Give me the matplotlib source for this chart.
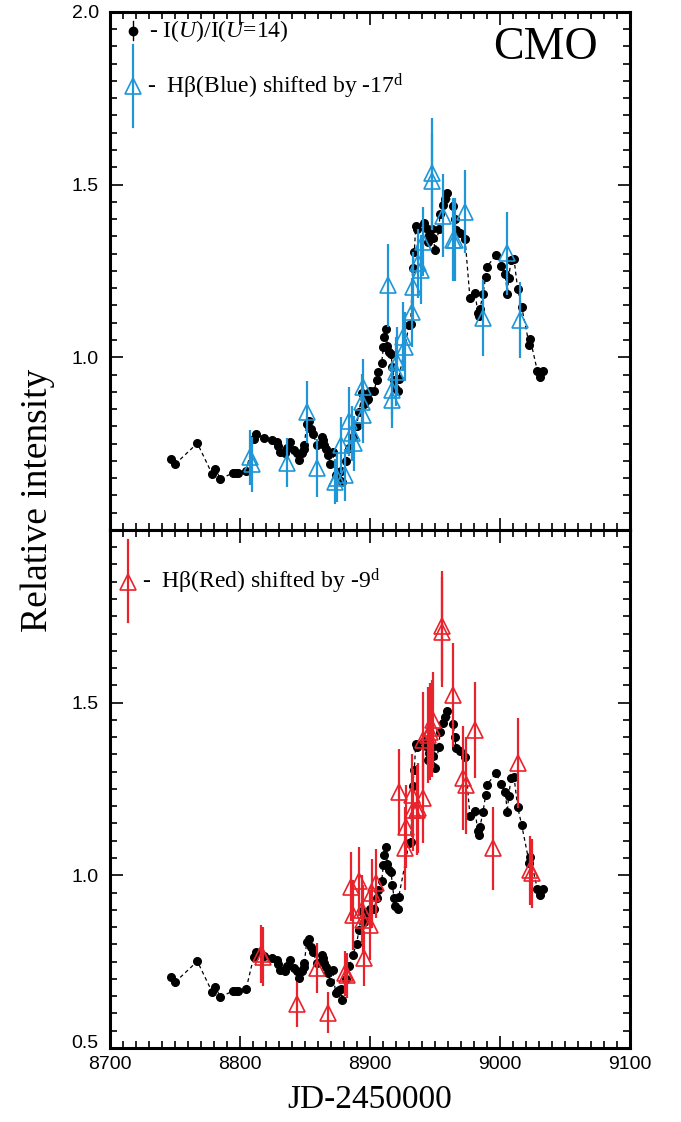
import matplotlib
matplotlib.use("Agg")
import matplotlib.pyplot as plt
from matplotlib.ticker import MultipleLocator

plt.rcParams['mathtext.fontset'] = 'custom'
plt.rcParams['mathtext.rm'] = 'Liberation Serif'
plt.rcParams['mathtext.it'] = 'Liberation Serif:italic'

# ---------------- data ----------------
u_jd = [8746.9, 8750.0, 8767.2, 8778.7, 8781.0, 8784.8, 8794.8, 8796.9, 8798.2, 8804.8,
        8810.5, 8812.3, 8818.7, 8824.6, 8828.2, 8829.2, 8830.5, 8834.6, 8835.9, 8838.5,
        8841.5, 8843.8, 8845.6, 8847.5, 8849.0, 8849.5, 8851.3, 8853.3, 8854.8, 8856.4,
        8859.0, 8862.8, 8863.8, 8864.6, 8865.9, 8867.9, 8869.5, 8871.3, 8873.6, 8874.8,
        8876.4, 8877.5, 8878.5, 8881.3, 8884.2, 8886.7, 8889.7, 8891.5, 8894.1, 8895.6,
        8897.4, 8898.5, 8900.0, 8903.3, 8905.1, 8906.2, 8909.0, 8910.3, 8911.0, 8912.3,
        8913.3, 8914.4, 8916.2, 8917.2, 8918.5, 8919.5, 8921.5, 8922.1, 8930.0, 8931.3,
        8932.8, 8934.1, 8935.2, 8936.4, 8941.8, 8942.8, 8944.9, 8945.6, 8947.4, 8948.7,
        8950.0, 8953.1, 8953.8, 8955.9, 8957.7, 8959.0, 8964.1, 8965.2, 8966.2, 8969.2,
        8973.1, 8976.9, 8981.0, 8982.8, 8983.8, 8984.6, 8986.9, 8989.0, 8990.0, 8996.9,
        9001.0, 9004.1, 9005.6, 9006.7, 9008.5, 9010.8, 9013.6, 9016.7, 9022.5, 9023.3,
        9028.7, 9030.8, 9032.8]
u_int = [0.705, 0.690, 0.751, 0.661, 0.677, 0.648, 0.665, 0.665, 0.664, 0.672,
         0.763, 0.777, 0.767, 0.761, 0.755, 0.744, 0.727, 0.724, 0.736, 0.755,
         0.731, 0.722, 0.703, 0.724, 0.735, 0.746, 0.806, 0.816, 0.792, 0.778,
         0.745, 0.770, 0.761, 0.745, 0.734, 0.718, 0.691, 0.725, 0.659, 0.661,
         0.668, 0.672, 0.638, 0.700, 0.737, 0.770, 0.801, 0.842, 0.896, 0.865,
         0.876, 0.879, 0.903, 0.903, 0.934, 0.957, 0.984, 1.029, 1.058, 1.081,
         1.033, 1.014, 1.009, 0.973, 0.934, 0.910, 0.903, 0.937, 1.093, 1.096,
         1.258, 1.306, 1.381, 1.372, 1.388, 1.375, 1.335, 1.354, 1.372, 1.345,
         1.311, 1.372, 1.415, 1.441, 1.458, 1.477, 1.438, 1.401, 1.369, 1.359,
         1.343, 1.171, 1.187, 1.127, 1.118, 1.140, 1.183, 1.233, 1.262, 1.296,
         1.264, 1.241, 1.183, 1.229, 1.282, 1.284, 1.198, 1.145, 1.036, 1.052,
         0.961, 0.942, 0.961]

blue_jd = [8807.5, 8809.5, 8835.9, 8851.3, 8859.5, 8873.0, 8875.0, 8877.5, 8881.0, 8884.1,
           8885.9, 8887.9, 8894.0, 8894.9, 8894.9, 8914.1, 8916.6, 8916.7, 8920.0, 8920.5,
           8925.6, 8926.9, 8932.0, 8933.3, 8937.2, 8939.0, 8941.0, 8947.4, 8947.4, 8956.4,
           8964.1, 8965.4, 8973.1, 8987.2, 9005.6, 9015.4]
blue_int = [0.710, 0.690, 0.695, 0.842, 0.679, 0.640, 0.650, 0.746, 0.660, 0.814,
            0.780, 0.751, 0.871, 0.833, 0.915, 1.209, 0.876, 0.905, 0.958, 0.987,
            1.060, 1.031, 1.130, 1.204, 1.272, 1.253, 1.335, 1.533, 1.509, 1.410,
            1.340, 1.340, 1.422, 1.113, 1.301, 1.108]
blue_err = [0.08, 0.08, 0.07, 0.09, 0.085, 0.065, 0.07, 0.08, 0.075, 0.10,
            0.08, 0.08, 0.08, 0.08, 0.08, 0.12, 0.08, 0.08, 0.10, 0.10,
            0.10, 0.10, 0.10, 0.10, 0.10, 0.10, 0.10, 0.16, 0.14, 0.12,
            0.12, 0.12, 0.12, 0.11, 0.12, 0.11]

red_jd = [8816.2, 8818.0, 8843.6, 8859.5, 8867.4, 8880.8, 8882.1, 8885.4, 8887.2, 8891.8,
          8893.6, 8894.9, 8895.4, 8900.0, 8901.3, 8904.4, 8922.3, 8926.9, 8927.7, 8932.6,
          8933.3, 8935.9, 8937.2, 8940.5, 8941.0, 8944.4, 8946.2, 8947.4, 8948.7, 8955.2,
          8955.2, 8964.1, 8971.8, 8973.6, 8980.8, 8994.9, 9013.6, 9023.1, 9024.4]
red_int = [0.772, 0.764, 0.627, 0.731, 0.602, 0.716, 0.711, 0.967, 0.885, 0.982,
           0.900, 0.871, 0.760, 0.856, 0.948, 0.977, 1.242, 1.078, 1.141, 1.231,
           1.189, 1.189, 1.194, 1.223, 1.392, 1.406, 1.416, 1.426, 1.450, 1.722,
           1.704, 1.522, 1.281, 1.260, 1.421, 1.078, 1.325, 1.015, 1.006]
red_err = [0.085, 0.085, 0.065, 0.073, 0.06, 0.065, 0.065, 0.10, 0.10, 0.10,
           0.10, 0.10, 0.08, 0.10, 0.10, 0.10, 0.123, 0.12, 0.12, 0.12,
           0.12, 0.13, 0.13, 0.13, 0.14, 0.14, 0.14, 0.14, 0.14, 0.16,
           0.16, 0.15, 0.15, 0.14, 0.14, 0.12, 0.13, 0.10, 0.10]

top_yticks = [0.5, 1.0, 1.5, 2.0]
top_ylabels = ['', '1.0', '1.5', '2.0']
bot_yticks = [0.5, 1.0, 1.5, 2.0]
bot_ylabels = ['0.5', '1.0', '1.5', '']
xticks = [8700, 8800, 8900, 9000, 9100]

BLUE = '#1e96d8'
RED = '#e8232b'
SERIF = 'Liberation Serif'
SANS = 'Liberation Sans'

fig = plt.figure(figsize=(6.81, 11.22), dpi=100)
ax1 = fig.add_axes([0.1615, 0.5277, 0.7636, 0.4617])
ax2 = fig.add_axes([0.1615, 0.066, 0.7636, 0.4617])


def style(ax, yt, ylab, show_x):
    ax.set_xlim(8700, 9100)
    ax.set_ylim(0.5, 2.0)
    ax.set_xticks(xticks)
    ax.xaxis.set_minor_locator(MultipleLocator(10))
    ax.yaxis.set_minor_locator(MultipleLocator(0.05))
    ax.set_yticks(yt, ylab, family=SANS, fontsize=14)
    if show_x:
        ax.set_xticks(xticks, [str(t) for t in xticks], family=SANS, fontsize=14)
    else:
        ax.set_xticklabels([])
    ax.tick_params(which='both', direction='in', top=True, right=True, width=1.2)
    ax.tick_params(which='major', length=9)
    ax.tick_params(which='minor', length=5)
    ax.tick_params(axis='y', pad=8)
    ax.tick_params(axis='x', pad=6)
    for s in ax.spines.values():
        s.set_linewidth(2.2)


def black(ax):
    ax.plot(u_jd, u_int, ls=(0, (3, 2.5)), color='black', lw=0.9, zorder=2)
    ax.plot(u_jd, u_int, 'o', color='black', ms=5.5, zorder=3)


# top panel
black(ax1)
ax1.errorbar(blue_jd, blue_int, yerr=blue_err, fmt='^', mfc='none', mec=BLUE,
             ecolor=BLUE, mew=1.2, ms=11, elinewidth=1.6, capsize=0, zorder=4)
style(ax1, top_yticks, top_ylabels, False)

# legend top
ax1.plot([0.044, 0.044], [0.945, 0.983], color='black', lw=1, transform=ax1.transAxes)
ax1.plot([0.044], [0.964], 'o', color='black', ms=6, transform=ax1.transAxes)
ax1.text(0.075, 0.964, r'- I($\mathit{U}$)/I($\mathit{U}$=14)', transform=ax1.transAxes,
         family=SERIF, fontsize=17, va='center', ha='left')
ax1.plot([0.044, 0.044], [0.777, 0.937], color=BLUE, lw=1.6, transform=ax1.transAxes)
ax1.plot([0.044], [0.856], '^', mfc='none', mec=BLUE, mew=1.2, ms=11, transform=ax1.transAxes)
ax1.text(0.072, 0.856, '-  H\u03b2(Blue) shifted by -17$^{\\rm d}$', transform=ax1.transAxes,
         family=SERIF, fontsize=17, va='center', ha='left')
ax1.text(0.938, 0.931, 'CMO', transform=ax1.transAxes, family=SERIF, fontsize=33,
         va='center', ha='right')

# bottom panel
black(ax2)
ax2.errorbar(red_jd, red_int, yerr=red_err, fmt='^', mfc='none', mec=RED,
             ecolor=RED, mew=1.2, ms=11, elinewidth=1.6, capsize=0, zorder=4)
style(ax2, bot_yticks, bot_ylabels, True)
# lift the lowest y label slightly like the reference
for lbl in ax2.get_yticklabels():
    if lbl.get_text() == '0.5':
        lbl.set_verticalalignment('baseline')

ax2.plot([0.035, 0.035], [0.822, 0.981], color=RED, lw=1.6, transform=ax2.transAxes)
ax2.plot([0.035], [0.900], '^', mfc='none', mec=RED, mew=1.2, ms=11, transform=ax2.transAxes)
ax2.text(0.062, 0.900, '-  H\u03b2(Red) shifted by -9$^{\\rm d}$', transform=ax2.transAxes,
         family=SERIF, fontsize=17, va='center', ha='left')

ax2.set_xlabel('JD-2450000', family=SERIF, fontsize=24, labelpad=8)
fig.text(0.055, 0.554, 'Relative intensity', rotation=90, family=SERIF, fontsize=27,
         va='center', ha='center')

fig.savefig('out.png', dpi=100)
